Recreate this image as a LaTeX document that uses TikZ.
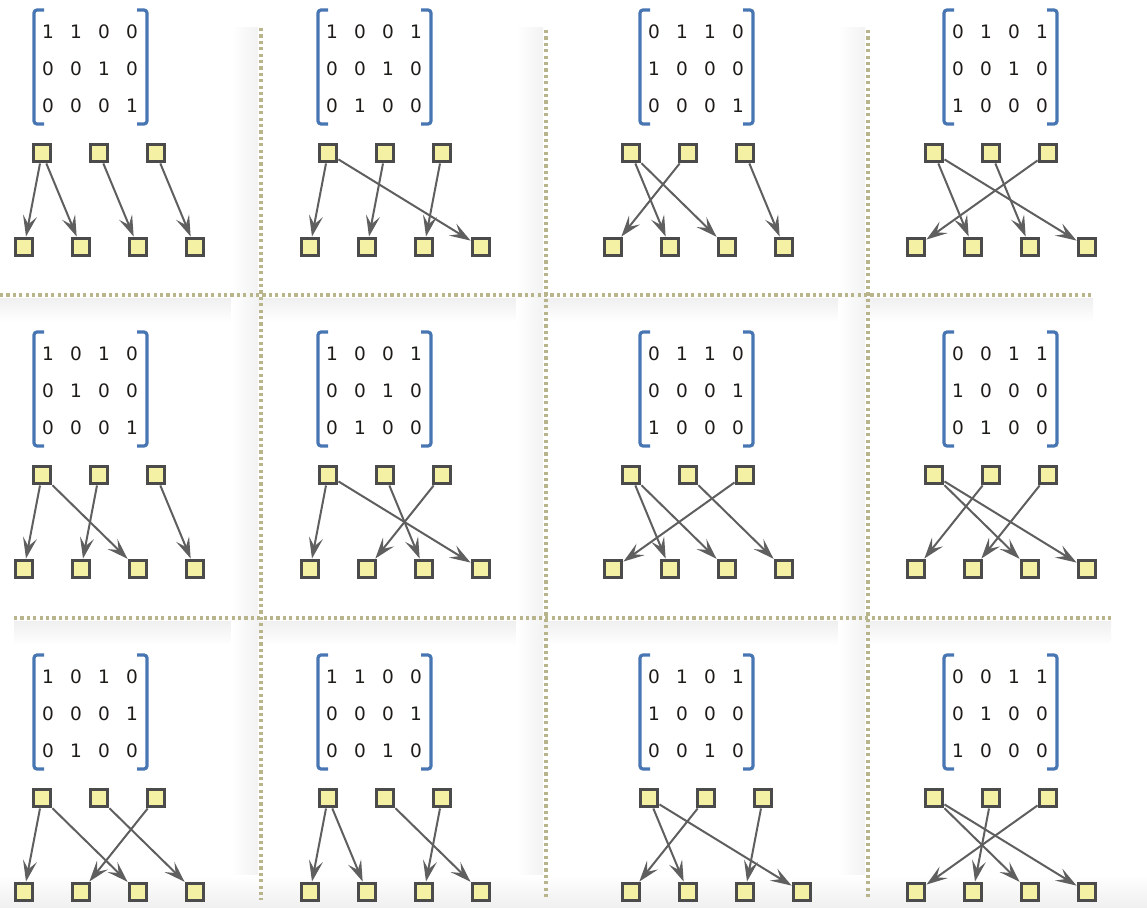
\documentclass[tikz,border=0pt]{standalone}
\usepackage{fontspec}
\setsansfont{DejaVu Sans}
\usetikzlibrary{arrows.meta,calc,positioning}

\definecolor{boxfill}{RGB}{244,240,164}
\definecolor{boxdraw}{RGB}{75,75,75}
\definecolor{arrowgray}{RGB}{95,95,95}
\definecolor{bracketblue}{RGB}{72,118,178}
\definecolor{dotcol}{RGB}{184,180,140}
\definecolor{digitcol}{RGB}{30,28,25}

% one cell: matrix with brackets, 3 upper boxes, 4 lower boxes
% #1 name, #2 x of first lower box, #3 x of left bracket, #4 y of bracket top
% #5 matrix rows, #6 arrows (upper/lower)
\newcommand{\graphcell}[6]{%
\foreach \k in {1,2,3}
  \node[vbox] (#1t\k) at ({#2+18+57*(\k-1)},{#4+143}) {};
\foreach \k in {1,2,3,4}
  \node[vbox] (#1b\k) at ({#2+57*(\k-1)},{#4+237}) {};
\foreach \r [count=\i] in {#5}
  \foreach \v [count=\j] in \r
    \node[digit] (#1m\i\j) at ({#3+14+28*(\j-1)},{#4+22+37*(\i-1)}) {\v};
\draw[bracket] ({#3+10},#4) -- (#3,#4) -- (#3,{#4+114}) -- ({#3+10},{#4+114});
\draw[bracket] ({#3+103},#4) -- ({#3+113},#4) -- ({#3+113},{#4+114}) -- ({#3+103},{#4+114});
\foreach \s/\e in {#6}
  \draw[link] (#1t\s) -- (#1b\e);
}

\begin{document}
\begin{tikzpicture}[x=1pt, y=-1pt,
  vbox/.style={draw=boxdraw, fill=boxfill, line width=3.4pt, minimum size=17.5pt, inner sep=0pt},
  digit/.style={text=digitcol, font=\sffamily\fontsize{18.5}{18.5}\selectfont, inner sep=0pt},
  bracket/.style={draw=bracketblue, line width=3.2pt, rounded corners=3pt},
  link/.style={draw=arrowgray, line width=2pt, -{Stealth[length=21pt,width=14pt,inset=8.5pt]}},
  dotsep/.style={draw=dotcol, line width=3.2pt, dash pattern=on 3.2pt off 3.2pt}]
\useasboundingbox (0,0) rectangle (1147,907);

% shadows of the panels
\shade[top color=black!6, bottom color=white] (0,298) rectangle (1093,322);
\shade[top color=black!6, bottom color=white] (14,621) rectangle (1111,645);
\foreach \xx in {261,546,868}
  \shade[left color=white, right color=black!5] ({\xx-30},28) rectangle ({\xx-3},900);
\shade[top color=white, bottom color=black!6] (0,875) rectangle (1147,907);

% separators
\draw[dotsep] (261,28) -- (261,900);
\draw[dotsep] (546,30) -- (546,900);
\draw[dotsep] (868,30) -- (868,900);
\draw[dotsep] (0,295) -- (1093,295);
\draw[dotsep] (14,618) -- (1111,618);

% row 1
\graphcell{a1}{24}{34}{10}{{1,1,0,0},{0,0,1,0},{0,0,0,1}}{1/1,1/2,2/3,3/4}
\graphcell{a2}{310}{318}{10}{{1,0,0,1},{0,0,1,0},{0,1,0,0}}{1/1,1/4,2/2,3/3}
\graphcell{a3}{613}{640}{10}{{0,1,1,0},{1,0,0,0},{0,0,0,1}}{1/2,1/3,2/1,3/4}
\graphcell{a4}{916}{944}{10}{{0,1,0,1},{0,0,1,0},{1,0,0,0}}{1/2,1/4,2/3,3/1}

% row 2
\graphcell{b1}{24}{34}{332}{{1,0,1,0},{0,1,0,0},{0,0,0,1}}{1/1,1/3,2/2,3/4}
\graphcell{b2}{310}{318}{332}{{1,0,0,1},{0,0,1,0},{0,1,0,0}}{1/1,1/4,2/3,3/2}
\graphcell{b3}{613}{640}{332}{{0,1,1,0},{0,0,0,1},{1,0,0,0}}{1/2,1/3,2/4,3/1}
\graphcell{b4}{916}{944}{332}{{0,0,1,1},{1,0,0,0},{0,1,0,0}}{1/3,1/4,2/1,3/2}

% row 3
\graphcell{c1}{24}{34}{655}{{1,0,1,0},{0,0,0,1},{0,1,0,0}}{1/1,1/3,2/4,3/2}
\graphcell{c2}{310}{318}{655}{{1,1,0,0},{0,0,0,1},{0,0,1,0}}{1/1,1/2,2/4,3/3}
\graphcell{c3}{631}{640}{655}{{0,1,0,1},{1,0,0,0},{0,0,1,0}}{1/2,1/4,2/1,3/3}
\graphcell{c4}{916}{944}{655}{{0,0,1,1},{0,1,0,0},{1,0,0,0}}{1/3,1/4,2/2,3/1}
\end{tikzpicture}
\end{document}
